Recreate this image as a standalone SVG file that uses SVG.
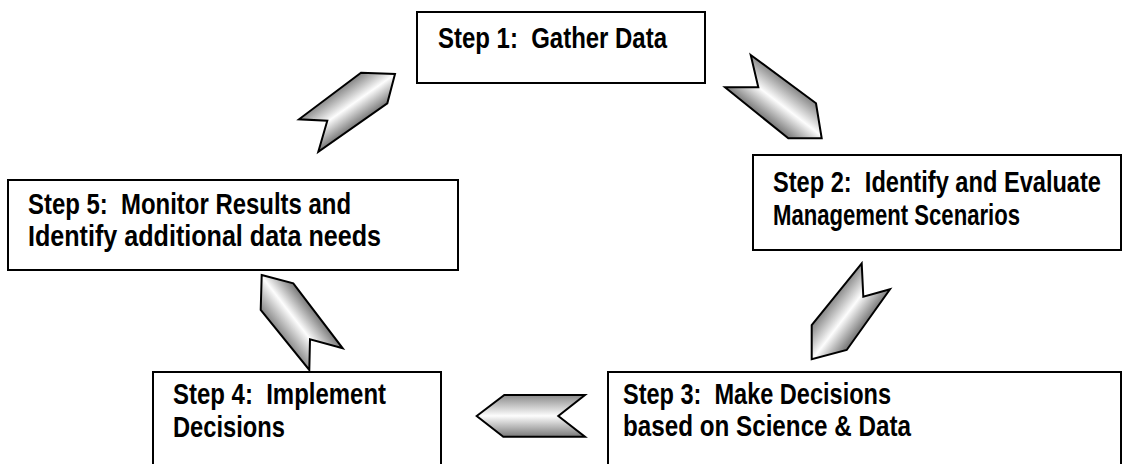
<svg xmlns="http://www.w3.org/2000/svg" width="1127" height="464" viewBox="0 0 1127 464">
<style>
.box{fill:#fff;stroke:#000;stroke-width:2}
.arr{stroke:#000;stroke-width:2;stroke-linejoin:miter}
.t{font-family:"Liberation Sans",Arial,sans-serif;font-weight:bold;font-size:29px;fill:#000;white-space:pre}
</style>
<defs>
<linearGradient id="g1" gradientUnits="userSpaceOnUse" x1="330" y1="96" x2="352.4" y2="127.9">
<stop offset="0" stop-color="#8a8a8a"/><stop offset="0.5" stop-color="#fdfdfd"/><stop offset="1" stop-color="#7a7a7a"/></linearGradient>
<linearGradient id="g2" gradientUnits="userSpaceOnUse" x1="780" y1="76.7" x2="753.8" y2="110.7">
<stop offset="0" stop-color="#8a8a8a"/><stop offset="0.5" stop-color="#fdfdfd"/><stop offset="1" stop-color="#7a7a7a"/></linearGradient>
<linearGradient id="g3" gradientUnits="userSpaceOnUse" x1="836.7" y1="294.2" x2="868.8" y2="318.6">
<stop offset="0" stop-color="#8a8a8a"/><stop offset="0.5" stop-color="#fdfdfd"/><stop offset="1" stop-color="#7a7a7a"/></linearGradient>
<linearGradient id="g4" gradientUnits="userSpaceOnUse" x1="0" y1="395" x2="0" y2="436.7">
<stop offset="0" stop-color="#8a8a8a"/><stop offset="0.5" stop-color="#fdfdfd"/><stop offset="1" stop-color="#7a7a7a"/></linearGradient>
<linearGradient id="g5" gradientUnits="userSpaceOnUse" x1="285" y1="340" x2="317.4" y2="315">
<stop offset="0" stop-color="#8a8a8a"/><stop offset="0.5" stop-color="#fdfdfd"/><stop offset="1" stop-color="#7a7a7a"/></linearGradient>
</defs>
<g id="connectors">
<polygon class="arr" fill="url(#g1)" points="361,72.7 395,74 387.3,103.3 318.3,151.7 327.3,120.7 299,119.3"/>
<polygon class="arr" fill="url(#g2)" points="750.7,55 816,103.3 821.7,138.3 788.3,138.3 725,87.3 758.3,87.3"/>
<polygon class="arr" fill="url(#g3)" points="861.7,263.3 863.3,296.7 890,289.3 846.7,350 811.7,359.3 811.7,325"/>
<polygon class="arr" fill="url(#g4)" points="476.7,416 504.3,395 585,395 558.3,416 585,436.7 503.3,436.7"/>
<polygon class="arr" fill="url(#g5)" points="261.7,275 293.3,283.3 342.7,348.3 310,339.3 309.3,370 260.7,310"/>
</g>
<g id="step1">
<rect class="box" x="417" y="12" width="288" height="71"/>
<text class="t" xml:space="preserve" x="438" y="48" textLength="229" lengthAdjust="spacingAndGlyphs">Step 1:  Gather Data</text>
</g>
<g id="step2">
<rect class="box" x="753" y="155" width="368" height="95"/>
<text class="t" xml:space="preserve" x="773" y="192" textLength="328" lengthAdjust="spacingAndGlyphs">Step 2:  Identify and Evaluate</text>
<text class="t" xml:space="preserve" x="773" y="225" textLength="247" lengthAdjust="spacingAndGlyphs">Management Scenarios</text>
</g>
<g id="step3">
<rect class="box" x="608" y="372" width="513" height="100"/>
<text class="t" xml:space="preserve" x="623" y="404" textLength="268" lengthAdjust="spacingAndGlyphs">Step 3:  Make Decisions</text>
<text class="t" xml:space="preserve" x="623" y="436" textLength="288" lengthAdjust="spacingAndGlyphs">based on Science &amp; Data</text>
</g>
<g id="step4">
<rect class="box" x="153" y="372" width="288" height="100"/>
<text class="t" xml:space="preserve" x="173" y="404" textLength="213" lengthAdjust="spacingAndGlyphs">Step 4:  Implement</text>
<text class="t" xml:space="preserve" x="173" y="437" textLength="112" lengthAdjust="spacingAndGlyphs">Decisions</text>
</g>
<g id="step5">
<rect class="box" x="8" y="180" width="450" height="90"/>
<text class="t" xml:space="preserve" x="28" y="214" textLength="323" lengthAdjust="spacingAndGlyphs">Step 5:  Monitor Results and</text>
<text class="t" xml:space="preserve" x="28" y="246" textLength="353" lengthAdjust="spacingAndGlyphs">Identify additional data needs</text>
</g>
</svg>
